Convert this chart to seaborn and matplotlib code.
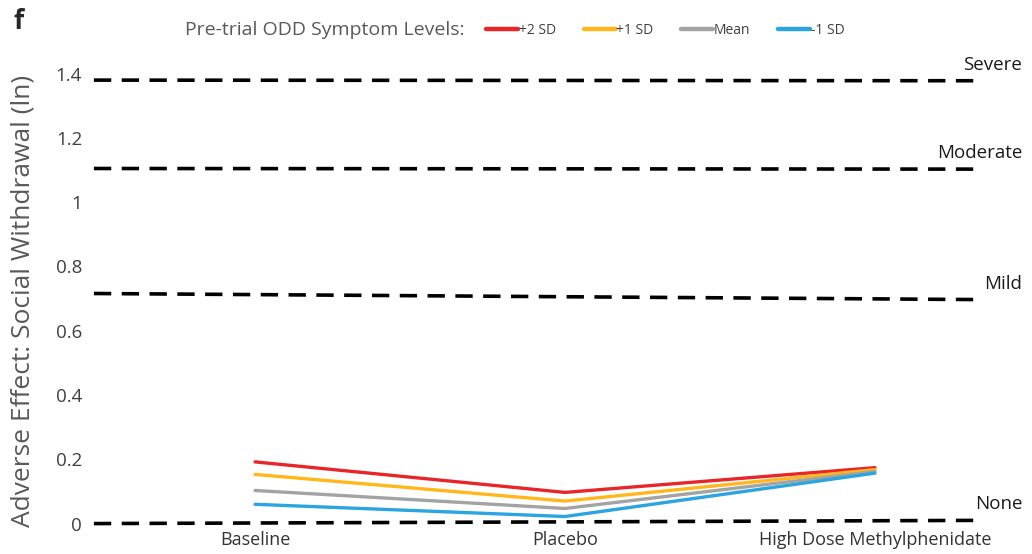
import matplotlib
matplotlib.use("Agg")
import matplotlib.pyplot as plt
from matplotlib.lines import Line2D
import seaborn as sns
import pandas as pd

# ---------------------------------------------
# DATA
# ---------------------------------------------
conditions = ["Baseline", "Placebo", "High Dose Methylphenidate"]
levels = ["+2 SD", "+1 SD", "Mean", "-1 SD"]
plus2_sd = [0.192, 0.097, 0.174]
plus1_sd = [0.153, 0.070, 0.168]
mean_sd = [0.103, 0.047, 0.162]
minus1_sd = [0.060, 0.022, 0.157]
level_colors = ["#e8262a", "#ffb71b", "#a3a3a3", "#2ba4e0"]

thresholds = ["None", "Mild", "Moderate", "Severe"]
threshold_left = [0.0, 0.716, 1.105, 1.380]
threshold_right = [0.010, 0.697, 1.103, 1.378]

yticks = [0, 0.2, 0.4, 0.6, 0.8, 1.0, 1.2, 1.4]
ytick_labels = ["0", "0.2", "0.4", "0.6", "0.8", "1", "1.2", "1.4"]

series = [plus2_sd, plus1_sd, mean_sd, minus1_sd]
rows = []
for lvl, vals in zip(levels, series):
    for i, (cond, v) in enumerate(zip(conditions, vals)):
        rows.append({"pos": i, "condition": cond, "level": lvl, "value": v})
df = pd.DataFrame(rows)

# ---------------------------------------------
# PLOT
# ---------------------------------------------
sns.set_style("white")
plt.rcParams["font.family"] = ["Open Sans", "DejaVu Sans"]

fig = plt.figure(figsize=(10.32, 5.54), dpi=100)
ax = fig.add_axes([0.097, 0.052, 0.901, 0.844])

sns.lineplot(data=df, x="pos", y="value", hue="level", hue_order=levels,
             palette=level_colors, linewidth=2.4, legend=False, ax=ax,
             sort=False)

# severity reference lines
x_left, x_right = -0.52, 2.34
for name, y0, y1 in zip(thresholds, threshold_left, threshold_right):
    ax.plot([x_left, x_right], [y0, y1], color="black", linewidth=2.6,
            dashes=(4.8, 2.9), clip_on=False, zorder=1)
    ax.text(2.475, y1 + 0.022, name, ha="right", va="bottom",
            fontsize=13.5, color="#1a1a1a")

ax.set_xlim(-0.5, 2.5)
ax.set_ylim(-0.005, 1.45)
ax.set_xticks(range(len(conditions)))
ax.set_xticklabels(conditions, fontsize=13, color="#333333")
ax.set_yticks(yticks)
ax.set_yticklabels(ytick_labels, fontsize=13.5, color="#404040")
ax.tick_params(axis="y", length=0, pad=13)
ax.tick_params(axis="x", length=0, pad=4)
ax.set_xlabel("")
ax.set_ylabel("Adverse Effect: Social Withdrawal (ln)", fontsize=19,
              color="#595959")
ax.yaxis.set_label_coords(-0.069, 0.48)
sns.despine(ax=ax, left=True, bottom=True)

# legend along the top
fig.text(0.013, 0.962, "f", fontsize=19, fontweight="bold", va="center")
fig.text(0.179, 0.945, "Pre-trial ODD Symptom Levels:", fontsize=14,
         color="#595959", va="center")
handles = [Line2D([0], [0], color=c, linewidth=3.2) for c in level_colors]
fig.legend(handles, levels, loc="center left", bbox_to_anchor=(0.471, 0.945),
           ncol=4, frameon=False, fontsize=10, handlelength=2.3,
           handletextpad=0.05, columnspacing=2.0, borderpad=0,
           borderaxespad=0, labelcolor="#404040")

fig.savefig("out.png", dpi=100)
